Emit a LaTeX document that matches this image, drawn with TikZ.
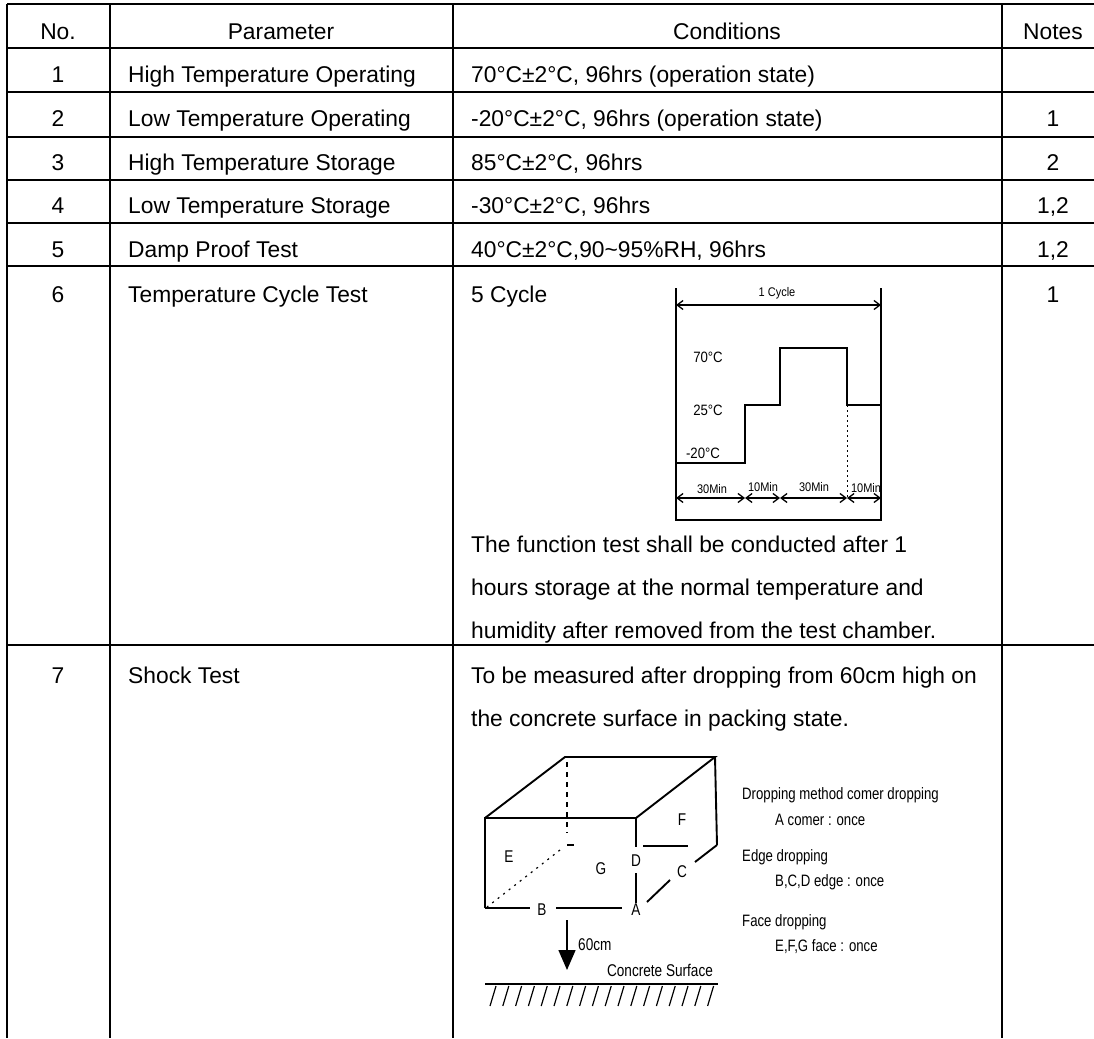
\documentclass[tikz,border=0pt]{standalone}
\usepackage{fontspec}
\setmainfont{Liberation Sans}
\newfontfamily\narrowfont[FakeStretch=0.88]{Liberation Sans}
\newfontfamily\condfont[FakeStretch=0.8]{Liberation Sans}
\usetikzlibrary{arrows.meta}
\begin{document}
\begin{tikzpicture}[x=1pt,y=-1pt,
  grid/.style={line width=1.9pt},
  txt/.style={anchor=base west,inner sep=0pt,font=\fontsize{22.8}{27}\selectfont},
  ctr/.style={anchor=base,inner sep=0pt,font=\fontsize{22.8}{27}\selectfont},
  small/.style={inner sep=0pt,font=\narrowfont\fontsize{12.5}{14}\selectfont},
  temp/.style={inner sep=0pt,font=\narrowfont\fontsize{15}{16}\selectfont},
  lab/.style={inner sep=0pt,font=\condfont\fontsize{17}{18}\selectfont},
  note/.style={anchor=west,inner sep=0pt,font=\condfont\fontsize{16.5}{18}\selectfont},
  chart/.style={line width=1.6pt},
  boxl/.style={line width=1.9pt},
  dimarr/.style={line width=1.3pt,{Straight Barb[length=6pt,width=9pt]}-{Straight Barb[length=6pt,width=9pt]}}
]
\useasboundingbox (0,0) rectangle (1094,1038);
% ---------- table grid ----------
\foreach \yy in {4,48,92,137,180,223,266,645}
  \draw[grid] (7,\yy) -- (1094,\yy);
\foreach \xx in {7,110,453,1002}
  \draw[grid] (\xx,4) -- (\xx,1038);
% ---------- header ----------
\node[ctr] (hno) at (58,40) {No.};
\node[ctr] (hpar) at (281,40) {Parameter};
\node[ctr] (hcon) at (727,40) {Conditions};
\node[ctr] (hnot) at (1053,40) {Notes};
% ---------- rows ----------
\node[ctr] (n1) at (58,83) {1};
\node[ctr] (n2) at (58,127) {2};
\node[ctr] (n3) at (58,170) {3};
\node[ctr] (n4) at (58,213) {4};
\node[ctr] (n5) at (58,257) {5};
\node[ctr] (n6) at (58,302) {6};
\node[ctr] (n7) at (58,683) {7};
\node[txt] (p1) at (128,83) {High Temperature Operating};
\node[txt] (p2) at (128,127) {Low Temperature Operating};
\node[txt] (p3) at (128,170) {High Temperature Storage};
\node[txt] (p4) at (128,213) {Low Temperature Storage};
\node[txt] (p5) at (128,257) {Damp Proof Test};
\node[txt] (p6) at (128,302) {Temperature Cycle Test};
\node[txt] (p7) at (128,683) {Shock Test};
\node[txt] (c1) at (471,83) {70°C±2°C, 96hrs (operation state)};
\node[txt] (c2) at (471,127) {-20°C±2°C, 96hrs (operation state)};
\node[txt] (c3) at (471,170) {85°C±2°C, 96hrs};
\node[txt] (c4) at (471,213) {-30°C±2°C, 96hrs};
\node[txt] (c5) at (471,257) {40°C±2°C,90\textasciitilde95\%RH, 96hrs};
\node[txt] (c6) at (471,302) {5 Cycle};
\node[txt] (c6a) at (471,552) {The function test shall be conducted after 1};
\node[txt] (c6b) at (471,595) {hours storage at the normal temperature and};
\node[txt] (c6c) at (471,638) {humidity after removed from the test chamber.};
\node[txt] (c7a) at (471,683) {To be measured after dropping from 60cm high on};
\node[txt] (c7b) at (471,726) {the concrete surface in packing state.};
\node[ctr] (o2) at (1053,127) {1};
\node[ctr] (o3) at (1053,170) {2};
\node[ctr] (o4) at (1053,213) {1,2};
\node[ctr] (o5) at (1053,257) {1,2};
\node[ctr] (o6) at (1053,302) {1};
% ---------- temperature cycle chart ----------
\draw[chart] (676,288) -- (676,520) -- (881,520) -- (881,288);
\draw[chart] (676,463) -- (745,463) -- (745,405) -- (780,405) -- (780,348)
  -- (847,348) -- (847,405) -- (881,405);
\draw[line width=1pt,dash pattern=on 2pt off 3pt] (847,405) -- (847,498);
\draw[dimarr] (676,305) -- (881,305);
\node[small] (cyc) at (777,293) {1 Cycle};
\draw[dimarr] (676,498) -- (745,498);
\draw[dimarr] (745,498) -- (780,498);
\draw[dimarr] (780,498) -- (847,498);
\draw[dimarr] (847,498) -- (881,498);
\node[small] (m1) at (712,489) {30Min};
\node[small] (m2) at (763,487) {10Min};
\node[small] (m3) at (814,487) {30Min};
\node[small] (m4) at (866,488) {10Min};
\node[temp] (t70) at (708,357) {70°C};
\node[temp] (t25) at (708,410) {25°C};
\node[temp] (t20) at (703,453) {-20°C};
% ---------- box (shock test) ----------
\draw[boxl] (485,908) -- (485,818) -- (636,818);
\draw[boxl] (485,818) -- (565,757) -- (715,757) -- (636,818);
\draw[boxl] (715,757) -- (717,845);
\draw[boxl] (485,908) -- (530,908);
\draw[boxl] (556,908) -- (622,908);
\draw[boxl] (636,818) -- (636,847);
\draw[boxl] (636,873) -- (636,903);
\draw[boxl] (717,845) -- (695,862);
\draw[boxl] (670,880) -- (647,902);
\draw[boxl] (643,846) -- (688,846);
\draw[line width=1.4pt,dash pattern=on 5pt off 5pt] (567,762) -- (567,833);
\draw[line width=1.2pt] (567,845) -- (574,845);
\draw[line width=1.2pt,dash pattern=on 2pt off 5pt] (560,850) -- (487,907);
\node[lab] (le) at (509,857) {E};
\node[lab] (lg) at (601,869) {G};
\node[lab] (ld) at (636,861) {D};
\node[lab] (lb) at (542,910) {B};
\node[lab] (la) at (636,910) {A};
\node[lab] (lc) at (682,872) {C};
\node[lab] (lf) at (682,820) {F};
\coordinate (dropA) at (567,920);
\coordinate (dropB) at (567,970);
\draw[line width=1.5pt,-{Triangle[length=20pt,width=17pt]}] (dropA) -- (dropB);
\node[lab,anchor=west] (h60) at (578,945) {60cm};
\node[lab] (cs) at (660,970) {Concrete Surface};
\draw[boxl] (485,984) -- (718,984);
\foreach \i in {0,...,17}
  \draw[line width=1.2pt] ({490+12.8*\i},1006) -- ({496+12.8*\i},986);
% ---------- dropping notes ----------
\node[note] (d1) at (742,795) {Dropping method comer dropping};
\node[note] (d2) at (775,820) {A comer : once};
\node[note] (d3) at (742,857) {Edge dropping};
\node[note] (d4) at (775,882) {B,C,D edge : once};
\node[note] (d5) at (742,922) {Face dropping};
\node[note] (d6) at (775,947) {E,F,G face : once};
\end{tikzpicture}
\end{document}
